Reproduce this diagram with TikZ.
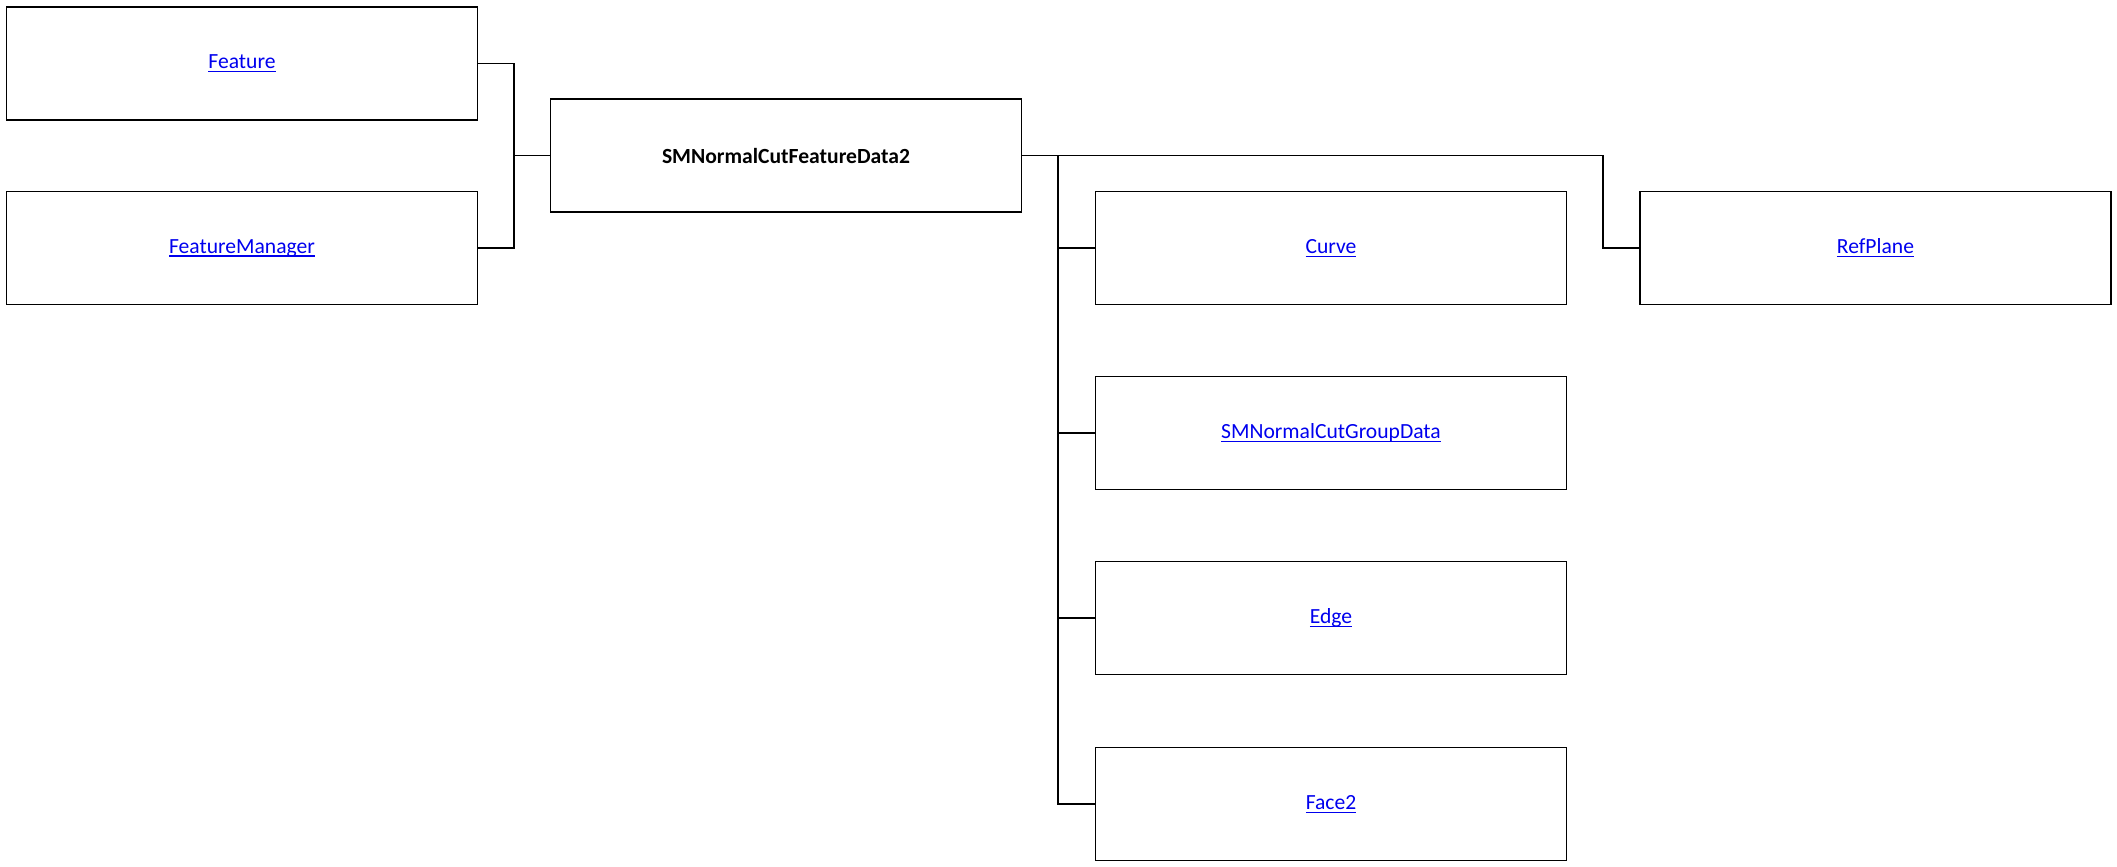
\documentclass[tikz,border=0pt]{standalone}
\usepackage{fontspec}
\setmainfont{Carlito}
\usetikzlibrary{calc}

\definecolor{linkblue}{RGB}{0,0,238}

% underlined link text
\newcommand{\lnk}[1]{\textcolor{linkblue}{\setbox0\hbox{#1}\rlap{\rule[-1.8pt]{\wd0}{0.65pt}}\box0}}

\begin{document}
\begin{tikzpicture}[x=0.5pt, y=-0.5pt,
  classbox/.style={draw, line width=0.9pt, minimum width=235.5pt, minimum height=56.5pt,
    inner sep=0pt, font=\fontsize{10.8}{13}\selectfont},
  wire/.style={line width=0.9pt}]

% Fix the page size
\useasboundingbox (0,0) rectangle (2117,867);

% Place the boxes
\node[classbox] (feat) at (242,63.5) {\lnk{Feature}};
\node[classbox] (fmgr) at (242,248) {\lnk{FeatureManager}};
\node[classbox] (smn) at (786,155.5) {\textbf{SMNormalCutFeatureData2}};
\node[classbox] (curve) at (1331,248) {\lnk{Curve}};
\node[classbox] (group) at (1331,433) {\lnk{SMNormalCutGroupData}};
\node[classbox] (edge) at (1331,618) {\lnk{Edge}};
\node[classbox] (face) at (1331,804) {\lnk{Face2}};
\node[classbox] (refp) at (1875.5,248) {\lnk{RefPlane}};

% Junction points of the connectors
\coordinate (lbus) at (514,155.5);
\coordinate (rbus) at (1058,155.5);
\coordinate (rjog) at (1603,155.5);

% Left bracket
\draw[wire] (feat.east) -| (lbus) |- (fmgr.east);
\draw[wire] (lbus) -- (smn.west);

% Right trunk and its branches
\draw[wire] (smn.east) -- (rbus) |- (face.west);
\foreach \n in {curve,group,edge}
  \draw[wire] (rbus |- \n.west) -- (\n.west);

% Branch to RefPlane
\draw[wire] (rbus) -- (rjog) |- (refp.west);

\end{tikzpicture}
\end{document}
